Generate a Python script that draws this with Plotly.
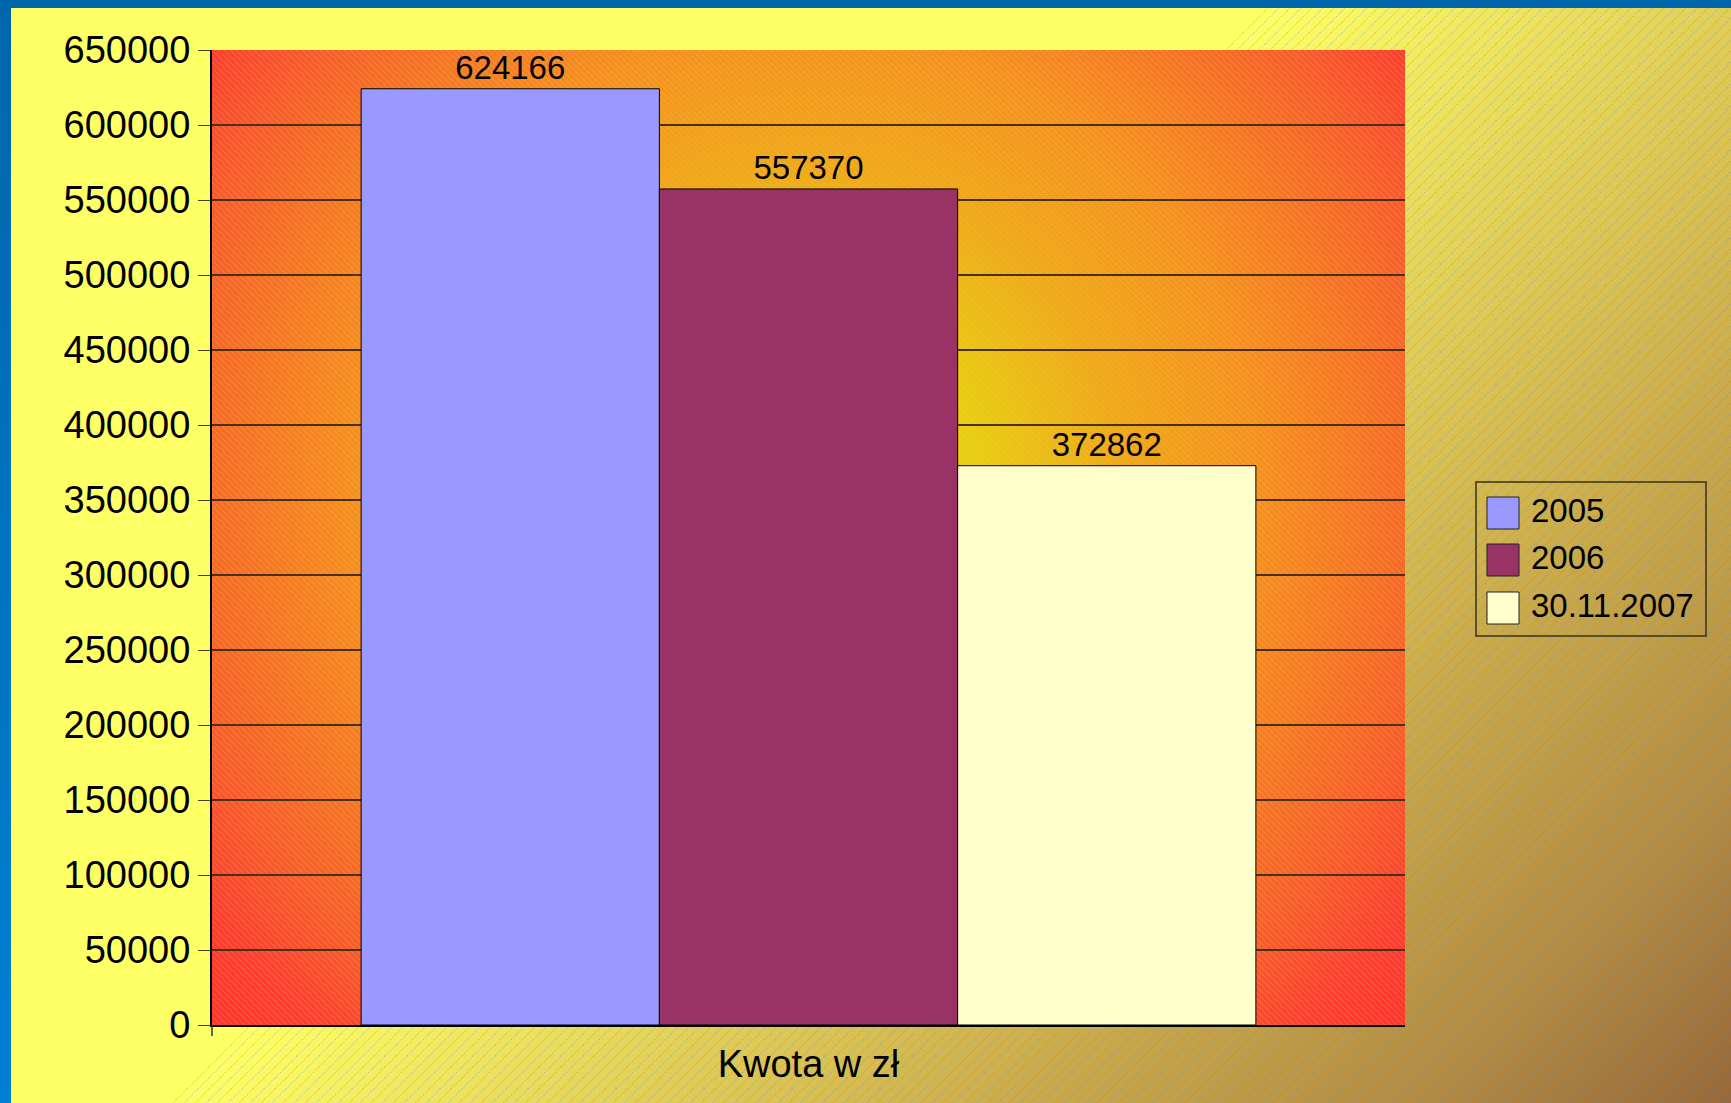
import base64
import plotly.graph_objects as go

# ---- data ----
category = ["Kwota w zł"]
series_names = ["2005", "2006", "30.11.2007"]
series_values = [624166, 557370, 372862]
series_colors = ["#9999FF", "#993366", "#FFFFCC"]
y_ticks = list(range(0, 650001, 50000))

W, H = 1731, 1103
L, R, T, B = 212, 326, 50, 78
PW, PH = W - L - R, H - T - B
FONT = "Liberation Sans, Arial, sans-serif"


def px_x(px):
    return (px - L) / PW


def px_y(py):
    return (H - B - py) / PH


def svg_uri(svg):
    return "data:image/svg+xml;base64," + base64.b64encode(svg.encode()).decode()


bg_svg = f"""<svg xmlns="http://www.w3.org/2000/svg" width="{W}" height="{H}" viewBox="0 0 {W} {H}">
<defs>
<linearGradient id="blue" x1="0" y1="0" x2="0" y2="1">
<stop offset="0" stop-color="#0066AC"/><stop offset="1" stop-color="#0080D2"/>
</linearGradient>
<linearGradient id="bg" gradientUnits="userSpaceOnUse" x1="635" y1="635" x2="1417" y2="1417">
<stop offset="0" stop-color="#FFFF66"/>
<stop offset="0.3" stop-color="#E1CE58"/>
<stop offset="0.56" stop-color="#C9A84A"/>
<stop offset="0.79" stop-color="#B38D44"/>
<stop offset="1" stop-color="#98683A"/>
</linearGradient>
<pattern id="hatch" patternUnits="userSpaceOnUse" width="11" height="11">
<path d="M-1,1 L1,-1 M0,11 L11,0 M10,12 L12,10" stroke="rgba(90,140,170,0.45)" stroke-width="1" stroke-dasharray="1.2,1.2"/>
</pattern>
<clipPath id="cl"><polygon points="1270,0 {W},0 {W},{H} 167,{H}"/></clipPath>
</defs>
<rect x="0" y="0" width="{W}" height="{H}" fill="url(#blue)"/>
<rect x="11" y="8" width="{W-11}" height="{H-8}" fill="url(#bg)"/>
<rect x="11" y="8" width="{W-11}" height="{H-8}" fill="url(#hatch)" clip-path="url(#cl)"/>
</svg>"""

plot_svg = f"""<svg xmlns="http://www.w3.org/2000/svg" width="{PW}" height="{PH}" viewBox="0 0 {PW} {PH}">
<defs>
<radialGradient id="rg" gradientUnits="userSpaceOnUse" cx="595" cy="430" r="807">
<stop offset="0" stop-color="#E2DA00"/>
<stop offset="0.22" stop-color="#E8CC10"/>
<stop offset="0.39" stop-color="#F0A818"/>
<stop offset="0.56" stop-color="#F7901F"/>
<stop offset="0.74" stop-color="#F86A28"/>
<stop offset="0.81" stop-color="#FA5A2E"/>
<stop offset="0.91" stop-color="#FE3E32"/>
<stop offset="1" stop-color="#FF3530"/>
</radialGradient>
<pattern id="h2" patternUnits="userSpaceOnUse" width="6" height="6">
<path d="M-1,-1 L7,7 M5,-1 L7,1 M-1,5 L1,7" stroke="rgba(255,215,120,0.22)" stroke-width="1"/>
</pattern>
</defs>
<rect x="0" y="0" width="{PW}" height="{PH}" fill="url(#rg)"/>
<rect x="0" y="0" width="{PW}" height="{PH}" fill="url(#h2)"/>
</svg>"""

fig = go.Figure()
for name, val, col in zip(series_names, series_values, series_colors):
    fig.add_trace(go.Bar(
        x=category, y=[val], name=name,
        marker=dict(color=col, line=dict(color="#000000", width=1)),
        text=[str(val)], textposition="outside",
        textfont=dict(family=FONT, size=33, color="#000000"),
        cliponaxis=False, showlegend=False,
    ))

images = [
    dict(source=svg_uri(bg_svg), xref="paper", yref="paper",
         x=px_x(0), y=px_y(0), sizex=W / PW, sizey=H / PH,
         xanchor="left", yanchor="top", sizing="stretch", layer="below"),
    dict(source=svg_uri(plot_svg), xref="paper", yref="paper",
         x=0, y=1, sizex=1, sizey=1,
         xanchor="left", yanchor="top", sizing="stretch", layer="below"),
]

# manual legend (large swatches)
shapes = [dict(type="rect", xref="paper", yref="paper",
               x0=px_x(1476), x1=px_x(1706), y0=px_y(482), y1=px_y(636),
               line=dict(color="#3A3220", width=1.5), fillcolor="rgba(0,0,0,0)")]
# small tick below the axis corner
shapes.append(dict(type="line", xref="paper", yref="paper",
                   x0=0, x1=0, y0=0, y1=px_y(H - B + 11),
                   line=dict(color="#333333", width=1.5)))
annotations = []
row_tops = [497, 544, 592]
for name, col, top in zip(series_names, series_colors, row_tops):
    shapes.append(dict(type="rect", xref="paper", yref="paper",
                       x0=px_x(1487), x1=px_x(1519), y0=px_y(top), y1=px_y(top + 32),
                       line=dict(color="#222222", width=1), fillcolor=col))
    annotations.append(dict(xref="paper", yref="paper", x=px_x(1529), y=px_y(top + 13),
                            text=name, showarrow=False, xanchor="left", yanchor="middle",
                            font=dict(family=FONT, size=33, color="#000000")))

fig.update_layout(
    width=W, height=H,
    margin=dict(l=L, r=R, t=T, b=B, pad=0, autoexpand=False),
    paper_bgcolor="#0068B0",
    plot_bgcolor="rgba(0,0,0,0)",
    barmode="group", bargap=0.25, bargroupgap=0,
    showlegend=False,
    font=dict(family=FONT, color="#000000"),
    images=images, shapes=shapes, annotations=annotations,
    xaxis=dict(
        showgrid=False, showline=True, linecolor="#000000", linewidth=2,
        ticks="outside", ticklen=4, tickcolor="rgba(0,0,0,0)",
        tickfont=dict(family=FONT, size=38, color="#000000"),
        automargin=False, fixedrange=True,
    ),
    yaxis=dict(
        range=[0, 650000], tickvals=y_ticks, ticktext=[str(v) for v in y_ticks],
        showgrid=True, gridcolor="#4A3010", gridwidth=1.5,
        showline=True, linecolor="#000000", linewidth=2, zeroline=False,
        ticks="outside", ticklen=12, tickcolor="#4A3A20",
        tickfont=dict(family=FONT, size=38, color="#000000"),
        automargin=False, fixedrange=True,
    ),
)

fig.write_html("out.html", config={"displayModeBar": False},
               post_script="document.body.style.margin='0';document.body.style.overflow='hidden';")
